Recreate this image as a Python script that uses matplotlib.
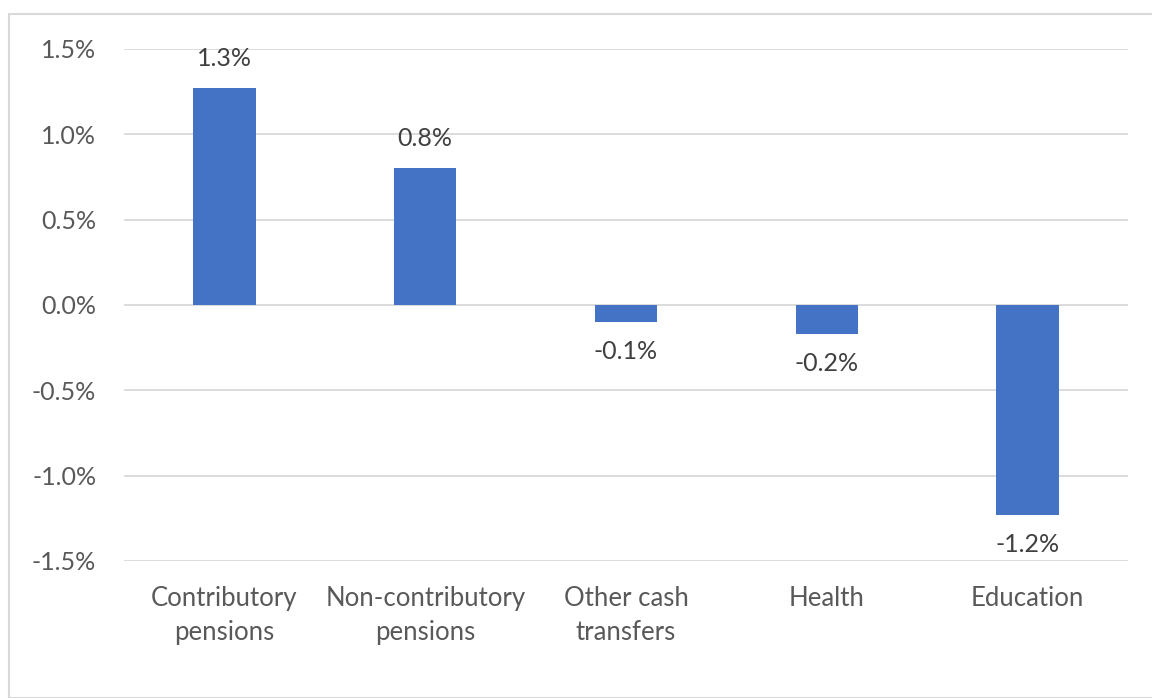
import matplotlib
matplotlib.use("Agg")
import matplotlib.pyplot as plt
from matplotlib.patches import Rectangle

categories = ["Contributory\npensions", "Non-contributory\npensions", "Other cash\ntransfers", "Health", "Education"]
values = [1.27, 0.80, -0.10, -0.17, -1.23]
labels = ["1.3%", "0.8%", "-0.1%", "-0.2%", "-1.2%"]
yticks = [-1.5, -1.0, -0.5, 0.0, 0.5, 1.0, 1.5]

plt.rcParams['font.family'] = ['Lato', 'DejaVu Sans']

W, H = 1152, 698
fig = plt.figure(figsize=(W/100, H/100), dpi=100)
fig.patches.append(Rectangle((9/W, 0), 1.5, 1 - 14/H, transform=fig.transFigure,
                             fill=False, edgecolor="#d9d9d9", linewidth=1.5))
ax = fig.add_axes([124/W, 1 - 561/H, (1128-124)/W, (561-49)/H])

x = list(range(len(categories)))
ax.bar(x, values, width=0.31, color="#4472C4", zorder=3)
ax.set_xlim(-0.5, len(categories) - 0.5)
ax.set_ylim(-1.5, 1.5)
ax.set_yticks(yticks)
ax.set_yticklabels([f"{v:.1f}%" for v in yticks], fontsize=18, color="#595959")
ax.set_xticks(x)
ax.set_xticklabels(categories, fontsize=18.5, color="#595959", linespacing=1.45)
ax.tick_params(axis="both", length=0)
ax.tick_params(axis="y", pad=20)
ax.tick_params(axis="x", pad=18)
ax.grid(axis="y", color="#d9d9d9", linewidth=1.3, zorder=0)
for s in ax.spines.values():
    s.set_visible(False)

for xi, v, lab in zip(x, values, labels):
    if v >= 0:
        ax.annotate(lab, (xi, v), xytext=(0, 13), textcoords="offset points",
                    ha="center", va="bottom", fontsize=18, color="#404040")
    else:
        ax.annotate(lab, (xi, v), xytext=(0, -13), textcoords="offset points",
                    ha="center", va="top", fontsize=18, color="#404040")

fig.savefig("out.png", dpi=100)
